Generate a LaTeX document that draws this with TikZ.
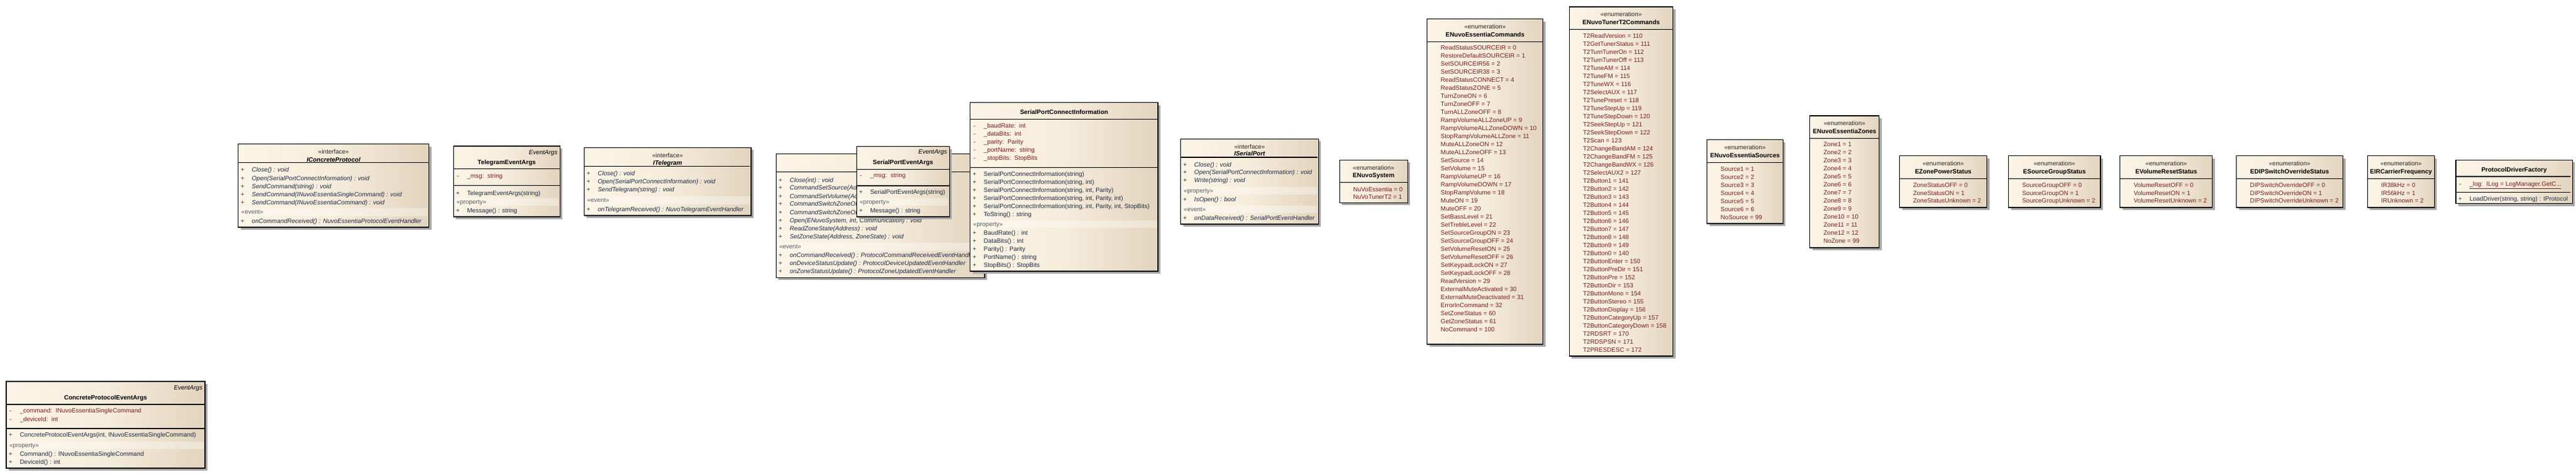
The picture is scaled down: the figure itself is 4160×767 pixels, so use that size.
\documentclass[tikz,border=0pt]{standalone}
\usepackage{fontspec}
\setmainfont{Liberation Sans}
\definecolor{cdA}{HTML}{FCF4E6}
\definecolor{cdM}{HTML}{F6ECDB}
\definecolor{cdB}{HTML}{E2D4BE}
\definecolor{cdshadowc}{HTML}{A8A8A8}
\definecolor{cdattrc}{HTML}{7A1E1E}
\definecolor{cdminus}{HTML}{C00000}
\definecolor{cdopc}{HTML}{1E2A44}
\definecolor{cdplus}{HTML}{24402A}
\definecolor{cdsterc}{HTML}{5A5A5A}
\pgfdeclarehorizontalshading{cdgrad}{100bp}{color(0bp)=(cdA); color(25bp)=(cdA); color(50bp)=(cdM); color(75bp)=(cdB); color(100bp)=(cdB)}
\newcounter{cdn}
\tikzset{
  cdshadow/.style={fill=cdshadowc},
  cdfill/.style={shading=cdgrad},
  cdline/.style={draw=black, line width=1.1pt},
  cdbandst/.style={fill=white, fill opacity=0.35},
  cdtxt/.style={inner sep=0pt, outer sep=0pt, font=\fontsize{10}{12}\selectfont},
  cdname/.style={cdtxt, font=\fontsize{10}{12}\selectfont\bfseries},
  cdiname/.style={cdtxt, font=\fontsize{10}{12}\selectfont\bfseries\itshape},
  cdster0/.style={cdtxt, text=black!85},
  cdster/.style={cdtxt, text=cdsterc},
  cdmk/.style={cdtxt},
  cdat/.style={cdtxt, text=cdattrc},
  cdlt/.style={cdtxt, text=cdattrc},
  cdopt/.style={cdtxt, text=cdopc},
  cdiopt/.style={cdtxt, text=cdopc, font=\fontsize{10}{12}\selectfont\itshape},
  cdright/.style={cdtxt, font=\fontsize{10}{12}\selectfont\itshape}
}
\newcommand\cdbox[5]{%
  \fill[cdshadow] ({#2+4},{#3+4}) rectangle ({#4+4},{#5+4});
  \shade[cdfill] (#2,#3) rectangle (#4,#5);
  \draw[cdline] (#2,#3) rectangle (#4,#5);
  \coordinate (#1) at (#2,#3);
  \def\cdL{#2}\def\cdR{#4}\def\cdT{#3}\def\cdB{#5}}
\newcommand\cdsep[1]{\draw[cdline] (\cdL,#1) -- (\cdR,#1);}
\newcommand\cdband[3]{%
  \fill[cdbandst] ({\cdL+2.5},#1) rectangle ({\cdR-2.5},#2);
  \stepcounter{cdn}\node[cdster, anchor=base west] (m\arabic{cdn}) at ({\cdL+5},{(#1+#2)/2+3.3}) {#3};}
\newcommand\cdattr[2]{%
  \stepcounter{cdn}\node[cdmk, text=cdminus, anchor=base] (m\arabic{cdn}) at ({\cdL+7},{#1+3.5}) {-};
  \stepcounter{cdn}\node[cdat, anchor=base west] (m\arabic{cdn}) at ({\cdL+22},{#1+3.5}) {#2};}
\newcommand\cdop[2]{%
  \stepcounter{cdn}\node[cdmk, text=cdplus, anchor=base] (m\arabic{cdn}) at ({\cdL+7},{#1+3.5}) {+};
  \stepcounter{cdn}\node[cdopt, anchor=base west] (m\arabic{cdn}) at ({\cdL+22},{#1+3.5}) {#2};}
\newcommand\cdiop[2]{%
  \stepcounter{cdn}\node[cdmk, text=cdplus, anchor=base] (m\arabic{cdn}) at ({\cdL+7},{#1+3.5}) {+};
  \stepcounter{cdn}\node[cdiopt, anchor=base west] (m\arabic{cdn}) at ({\cdL+22},{#1+3.5}) {#2};}
\newcommand\cdlit[2]{%
  \stepcounter{cdn}\node[cdlt, anchor=base west] (m\arabic{cdn}) at ({\cdL+22},{#1+3.5}) {#2};}
\newcommand\cdctr[3]{%
  \stepcounter{cdn}\node[#2, anchor=base] (m\arabic{cdn}) at ({(\cdL+\cdR)/2},{#1+3.5}) {#3};}
\newcommand\cdrt[2]{%
  \stepcounter{cdn}\node[cdright, anchor=base east] (m\arabic{cdn}) at ({\cdR-4},{#1+3.5}) {#2};}
\newcommand\cdenumhead[1]{%
  \cdctr{\cdT+12.3}{cdster0}{«enumeration»}
  \cdctr{\cdT+25}{cdname}{#1}
  \cdsep{\cdT+36.6}}
\begin{document}
\begin{tikzpicture}[x=1pt,y=-1pt]
\fill[white] (0,0) rectangle (4160,767);
\path[use as bounding box] (0,0) rectangle (4160,767);

% ConcreteProtocolEventArgs
\cdbox{cpea}{10}{616}{331}{756}
\cdrt{626}{EventArgs}
\cdctr{642}{cdname}{ConcreteProtocolEventArgs}
\cdsep{653}
\cdattr{663}{\_command:\ \ INuvoEssentiaSingleCommand}
\cdattr{677}{\_deviceId:\ \ int}
\cdsep{692}
\cdop{702}{ConcreteProtocolEventArgs(int, INuvoEssentiaSingleCommand)}
\cdband{713}{725}{«property»}
\cdop{733}{Command() : INuvoEssentiaSingleCommand}
\cdop{746}{DeviceId() : int}

% IConcreteProtocol
\cdbox{icp}{384.7}{232.7}{692.7}{367}
\cdctr{245}{cdster0}{«interface»}
\cdctr{257.7}{cdiname}{IConcreteProtocol}
\cdsep{262.7}
\cdiop{274.3}{Close() : void}
\cdiop{287.5}{Open(SerialPortConnectInformation) : void}
\cdiop{300.7}{SendCommand(string) : void}
\cdiop{313.9}{SendCommand(INuvoEssentiaSingleCommand) : void}
\cdiop{327}{SendCommand(INuvoEssentiaCommand) : void}
\cdband{336}{349}{«event»}
\cdiop{357}{onCommandReceived() : NuvoEssentiaProtocolEventHandler}

% TelegramEventArgs
\cdbox{tea}{732.3}{236}{904.3}{350}
\cdrt{246}{EventArgs}
\cdctr{261.7}{cdname}{TelegramEventArgs}
\cdsep{272.7}
\cdattr{284.3}{\_msg:\ \ string}
\cdsep{299.3}
\cdop{312.3}{TelegramEventArgs(string)}
\cdband{320}{331.7}{«property»}
\cdop{340}{Message() : string}

% ITelegram
\cdbox{itg}{943.3}{238.3}{1213}{348}
\begin{scope}
\clip (943.3,238.3) rectangle (1211,348);
\cdctr{250.8}{cdster0}{«interface»}
\cdctr{263.3}{cdiname}{ITelegram}
\cdsep{268.3}
\cdiop{280}{Close() : void}
\cdiop{293}{Open(SerialPortConnectInformation) : void}
\cdiop{306}{SendTelegram(string) : void}
\cdband{317.5}{329.5}{«event»}
\cdiop{337.7}{onTelegramReceived() : NuvoTelegramEventHandler}
\end{scope}

% protocol interface (title hidden)
\cdbox{proto}{1253.3}{248.3}{1590}{448.3}
\cdsep{277.7}
\cdiop{290.7}{Close(int) : void}
\cdiop{303.5}{CommandSetSource(Address, int) : void}
\cdiop{316.5}{CommandSetVolume(Address, int) : void}
\cdiop{329.5}{CommandSwitchZoneON(Address) : void}
\cdiop{342.5}{CommandSwitchZoneOFF(Address) : void}
\cdiop{355.5}{Open(ENuvoSystem, int, Communication) : void}
\cdiop{368.5}{ReadZoneState(Address) : void}
\cdiop{381.5}{SetZoneState(Address, ZoneState) : void}
\cdband{392.3}{405}{«event»}
\cdiop{412}{onCommandReceived() : ProtocolCommandReceivedEventHandler}
\cdiop{424.8}{onDeviceStatusUpdate() : ProtocolDeviceUpdatedEventHandler}
\cdiop{437.7}{onZoneStatusUpdate() : ProtocolZoneUpdatedEventHandler}

% SerialPortEventArgs
\cdbox{spea}{1383.3}{236.7}{1533.3}{350}
\cdrt{245}{EventArgs}
\cdctr{261.7}{cdname}{SerialPortEventArgs}
\cdsep{273.3}
\cdattr{283.3}{\_msg:\ \ string}
\cdsep{300}
\cdop{310}{SerialPortEventArgs(string)}
\cdband{320.5}{332}{«property»}
\cdop{340}{Message() : string}

% SerialPortConnectInformation
\cdbox{spci}{1566.7}{165.7}{1870}{438}
\cdctr{180.7}{cdname}{SerialPortConnectInformation}
\cdsep{192.7}
\cdattr{202.7}{\_baudRate:\ \ int}
\cdattr{215.7}{\_dataBits:\ \ int}
\cdattr{228.7}{\_parity:\ \ Parity}
\cdattr{241.7}{\_portName:\ \ string}
\cdattr{254.7}{\_stopBits:\ \ StopBits}
\cdsep{270.3}
\cdop{280.7}{SerialPortConnectInformation(string)}
\cdop{293.7}{SerialPortConnectInformation(string, int)}
\cdop{306.7}{SerialPortConnectInformation(string, int, Parity)}
\cdop{319.7}{SerialPortConnectInformation(string, int, Parity, int)}
\cdop{332.7}{SerialPortConnectInformation(string, int, Parity, int, StopBits)}
\cdop{345.7}{ToString() : string}
\cdband{355.7}{368.3}{«property»}
\cdop{375.7}{BaudRate() : int}
\cdop{388.7}{DataBits() : int}
\cdop{401.7}{Parity() : Parity}
\cdop{414.7}{PortName() : string}
\cdop{427.7}{StopBits() : StopBits}

% ISerialPort
\cdbox{isp}{1906.7}{224.5}{2129.3}{362}
\begin{scope}
\clip (1906.7,224.5) rectangle (2127.5,362);
\cdctr{236.7}{cdster0}{«interface»}
\cdctr{248.3}{cdiname}{ISerialPort}
\cdsep{254}
\cdiop{265.7}{Close() : void}
\cdiop{278.5}{Open(SerialPortConnectInformation) : void}
\cdiop{291.5}{Write(string) : void}
\cdband{301.7}{314.3}{«property»}
\cdiop{321.7}{IsOpen() : bool}
\cdband{331.7}{344.3}{«event»}
\cdiop{352}{onDataReceived() : SerialPortEventHandler}
\end{scope}

% ENuvoSystem
\cdbox{ens}{2163.3}{258.3}{2273.3}{327.3}
\cdenumhead{ENuvoSystem}
\cdlit{305.7}{NuVoEssentia = 0}
\cdlit{318.5}{NuVoTunerT2 = 1}

% ENuvoEssentiaCommands
\cdbox{eec}{2304.7}{30.7}{2491.7}{556}
\cdenumhead{ENuvoEssentiaCommands}
\foreach \t [count=\i from 0] in {ReadStatusSOURCEIR = 0, RestoreDefaultSOURCEIR = 1, SetSOURCEIR56 = 2, SetSOURCEIR38 = 3, ReadStatusCONNECT = 4, ReadStatusZONE = 5, TurnZoneON = 6, TurnZoneOFF = 7, TurnALLZoneOFF = 8, RampVolumeALLZoneUP = 9, RampVolumeALLZoneDOWN = 10, StopRampVolumeALLZone = 11, MuteALLZoneON = 12, MuteALLZoneOFF = 13, SetSource = 14, SetVolume = 15, RampVolumeUP = 16, RampVolumeDOWN = 17, StopRampVolume = 18, MuteON = 19, MuteOFF = 20, SetBassLevel = 21, SetTrebleLevel = 22, SetSourceGroupON = 23, SetSourceGroupOFF = 24, SetVolumeResetON = 25, SetVolumeResetOFF = 26, SetKeypadLockON = 27, SetKeypadLockOFF = 28, ReadVersion = 29, ExternalMuteActivated = 30, ExternalMuteDeactivated = 31, ErrorInCommand = 32, SetZoneStatus = 60, GetZoneStatus = 61, NoCommand = 100}
  {\cdlit{77.3+13*\i}{\t}}

% ENuvoTunerT2Commands
\cdbox{et2}{2534.3}{11}{2701.7}{575}
\cdenumhead{ENuvoTunerT2Commands}
\foreach \t [count=\i from 0] in {T2ReadVersion = 110, T2GetTunerStatus = 111, T2TurnTunerOn = 112, T2TurnTunerOff = 113, T2TuneAM = 114, T2TuneFM = 115, T2TuneWX = 116, T2SelectAUX = 117, T2TunePreset = 118, T2TuneStepUp = 119, T2TuneStepDown = 120, T2SeekStepUp = 121, T2SeekStepDown = 122, T2Scan = 123, T2ChangeBandAM = 124, T2ChangeBandFM = 125, T2ChangeBandWX = 126, T2SelectAUX2 = 127, T2Button1 = 141, T2Button2 = 142, T2Button3 = 143, T2Button4 = 144, T2Button5 = 145, T2Button6 = 146, T2Button7 = 147, T2Button8 = 148, T2Button9 = 149, T2Button0 = 140, T2ButtonEnter = 150, T2ButtonPreDir = 151, T2ButtonPre = 152, T2ButtonDir = 153, T2ButtonMono = 154, T2ButtonStereo = 155, T2ButtonDisplay = 156, T2ButtonCategoryUp = 157, T2ButtonCategoryDown = 158, T2RDSRT = 170, T2RDSPSN = 171, T2PRESDESC = 172}
  {\cdlit{57.7+13*\i}{\t}}

% ENuvoEssentiaSources
\cdbox{ees}{2756.7}{225.7}{2879.3}{361}
\cdenumhead{ENuvoEssentiaSources}
\foreach \t [count=\i from 0] in {Source1 = 1, Source2 = 2, Source3 = 3, Source4 = 4, Source5 = 5, Source6 = 6, NoSource = 99}
  {\cdlit{272.7+13*\i}{\t}}

% ENuvoEssentiaZones
\cdbox{eez}{2922.8}{187}{3034.7}{400}
\cdenumhead{ENuvoEssentiaZones}
\foreach \t [count=\i from 0] in {Zone1 = 1, Zone2 = 2, Zone3 = 3, Zone4 = 4, Zone5 = 5, Zone6 = 6, Zone7 = 7, Zone8 = 8, Zone9 = 9, Zone10 = 10, Zone11 = 11, Zone12 = 12, NoZone = 99}
  {\cdlit{233.3+13*\i}{\t}}

% EZonePowerStatus
\cdbox{ezp}{3067.5}{251.7}{3208.7}{335}
\cdenumhead{EZonePowerStatus}
\foreach \t [count=\i from 0] in {ZoneStatusOFF = 0, ZoneStatusON = 1, ZoneStatusUnknown = 2}
  {\cdlit{299+12.7*\i}{\t}}

% ESourceGroupStatus
\cdbox{esg}{3243.5}{251.7}{3392}{335}
\cdenumhead{ESourceGroupStatus}
\foreach \t [count=\i from 0] in {SourceGroupOFF = 0, SourceGroupON = 1, SourceGroupUnknown = 2}
  {\cdlit{299+12.7*\i}{\t}}

% EVolumeResetStatus
\cdbox{evr}{3423.8}{251.7}{3572.8}{335}
\cdenumhead{EVolumeResetStatus}
\foreach \t [count=\i from 0] in {VolumeResetOFF = 0, VolumeResetON = 1, VolumeResetUnknown = 2}
  {\cdlit{299+12.7*\i}{\t}}

% EDIPSwitchOverrideStatus
\cdbox{edip}{3611.5}{251.7}{3783.5}{335}
\cdenumhead{EDIPSwitchOverrideStatus}
\foreach \t [count=\i from 0] in {DIPSwitchOverrideOFF = 0, DIPSwitchOverrideON = 1, DIPSwitchOverrideUnknown = 2}
  {\cdlit{299+12.7*\i}{\t}}

% EIRCarrierFrequency
\cdbox{eir}{3823.3}{251.7}{3931.4}{335}
\cdenumhead{EIRCarrierFrequency}
\foreach \t [count=\i from 0] in {IR38kHz = 0, IR56kHz = 1, IRUnknown = 2}
  {\cdlit{299+12.7*\i}{\t}}

% ProtocolDriverFactory
\cdbox{pdf}{3966}{258.3}{4154}{328.5}
\begin{scope}
\clip (3966,258.3) rectangle (4151,328.5);
\cdctr{274}{cdname}{ProtocolDriverFactory}
\cdsep{285}
\cdattr{297.3}{\underline{\_log:\ \ ILog = LogManager.GetC...}}
\cdsep{310.7}
\cdop{320.5}{LoadDriver(string, string) : IProtocol}
\end{scope}
\end{tikzpicture}
\end{document}
